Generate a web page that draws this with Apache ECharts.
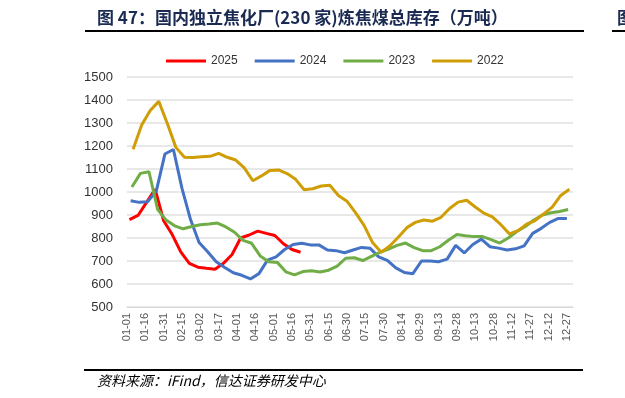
<!DOCTYPE html>
<html>
<head>
<meta charset="utf-8">
<script src="https://cdn.jsdelivr.net/npm/echarts@6.0.0/dist/echarts.min.js"></script>
<style>
  html, body { margin: 0; padding: 0; background: #fff; }
  #chart { width: 625px; height: 398px; }
</style>
</head>
<body>
<div id="chart"></div>
<script>
// weekly readings, first reading day (day of year, 0 = 01-01)
const start2025 = 2, start2024 = 3, start2023 = 4, start2022 = 5;

const v2025 = [880, 898, 955, 1012, 875, 815, 740, 690, 673, 668, 664, 690, 728, 800, 813,
  830, 820, 811, 775, 750, 738];

const v2024 = [962, 955, 958, 1005, 1165, 1185, 1016, 880, 780, 740, 697, 672, 649, 638, 622,
  645, 704, 718, 750, 772, 777, 770, 770, 748, 745, 736, 748, 759, 755, 718,
  703, 670, 650, 645, 700, 700, 697, 708, 768, 735, 772, 795, 762, 756, 748,
  753, 766, 820, 842, 868, 885, 885];

const v2023 = [1022, 1081, 1088, 925, 878, 853, 840, 850, 858, 861, 865, 848, 825, 790, 777,
  722, 697, 694, 653, 640, 654, 658, 652, 660, 678, 712, 714, 702, 720, 738,
  752, 768, 778, 758, 745, 745, 762, 790, 815, 810, 806, 806, 793, 778, 800,
  828, 850, 878, 900, 910, 915, 924];

const v2022 = [1186, 1291, 1354, 1394, 1298, 1194, 1151, 1150, 1153, 1155, 1168, 1151, 1139, 1105, 1049,
  1070, 1094, 1096, 1080, 1055, 1010, 1014, 1026, 1029, 985, 960, 910, 855, 780, 738,
  765, 803, 845, 868, 878, 873, 890, 928, 956, 964, 935, 908, 892, 858, 818,
  832, 860, 876, 905, 934, 985, 1012];

const names = ['2025', '2024', '2023', '2022'];
const colors = ['#ff0000', '#4472c4', '#70ad47', '#cf9e06'];

function weekly(start, vals) {
  return vals.map((v, i) => [start + 7 * i, v]);
}

function dayLabel(d) {
  if (d > 360) return '';
  const dt = new Date(Date.UTC(2023, 0, 1 + d));
  const mm = String(dt.getUTCMonth() + 1).padStart(2, '0');
  const dd = String(dt.getUTCDate()).padStart(2, '0');
  return mm + '-' + dd;
}

const chart = echarts.init(document.getElementById('chart'));

const seriesData = [
  weekly(start2025, v2025),
  weekly(start2024, v2024),
  weekly(start2023, v2023),
  weekly(start2022, v2022)
];

chart.setOption({
  animation: false,
  backgroundColor: '#fff',
  textStyle: { fontFamily: 'Liberation Sans, Arial, sans-serif' },
  legend: {
    data: names,
    top: 50,
    left: 161,
    icon: 'rect',
    itemWidth: 40,
    itemHeight: 3,
    itemGap: 17,
    textStyle: { fontSize: 12, color: '#333' }
  },
  grid: { left: 127, right: 52, top: 77, bottom: 91 },
  xAxis: {
    type: 'value',
    min: 0,
    max: 365,
    interval: 15,
    axisLine: { show: true, lineStyle: { color: '#d9d9d9', width: 1 } },
    axisTick: { show: false },
    splitLine: { show: false },
    axisLabel: {
      rotate: 90,
      fontSize: 11,
      color: '#595959',
      margin: 6,
      showMaxLabel: false,
      formatter: dayLabel
    }
  },
  yAxis: {
    type: 'value',
    min: 500,
    max: 1500,
    interval: 100,
    axisLine: { show: false },
    axisTick: { show: false },
    splitLine: { lineStyle: { color: '#e0e0e0', width: 1.5 } },
    axisLabel: { fontSize: 13, color: '#333', margin: 14, formatter: v => String(v) }
  },
  series: names.map((n, i) => ({
    name: n,
    type: 'line',
    data: seriesData[i],
    symbol: 'none',
    color: colors[i],
    lineStyle: { width: 3, color: colors[i] },
    z: 2 + i
  })),
  graphic: [
    {
      type: 'text', left: 97, top: 9,
      style: {
        text: '图 47：国内独立焦化厂(230 家)炼焦煤总库存（万吨）',
        font: 'bold 17px "Noto Sans CJK SC"',
        fill: '#1a2a52'
      }
    },
    { type: 'rect', shape: { x: 85, y: 30, width: 499, height: 2 }, style: { fill: '#000' } },
    { type: 'rect', shape: { x: 612, y: 30, width: 13, height: 2 }, style: { fill: '#000' } },
    {
      type: 'text', left: 617, top: 9,
      style: { text: '图', font: 'bold 17px "Noto Sans CJK SC"', fill: '#1a2a52' }
    },
    { type: 'rect', shape: { x: 84, y: 369, width: 499, height: 2 }, style: { fill: '#000' } },
    {
      type: 'text', left: 97, top: 374,
      style: {
        text: '资料来源：iFind，信达证券研发中心',
        font: 'italic 14px "Noto Sans CJK SC"',
        fill: '#000'
      }
    }
  ]
});
</script>
</body>
</html>
